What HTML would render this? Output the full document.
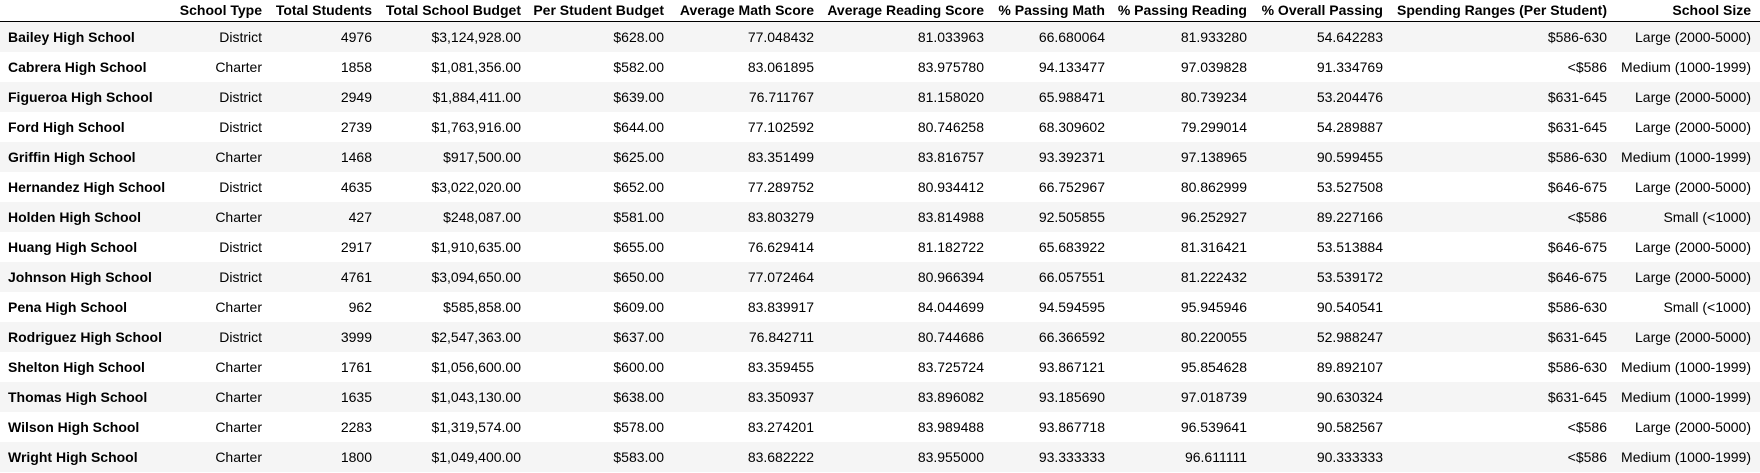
<!DOCTYPE html>
<html><head><meta charset="utf-8"><style>
body{margin:0;width:1760px;height:473px;background:#fff;overflow:hidden;font-family:"Liberation Sans",Arial,sans-serif;font-size:14px;color:#000;position:relative}
.c{position:absolute;white-space:nowrap;line-height:16px}
.h{font-weight:bold}
.row{position:absolute;left:0;width:1760px;height:30px}
.line{position:absolute;left:0;top:21px;width:1760px;height:1px;background:#000}
</style></head><body>
<div class="line"></div>
<script>
var headers=["School Type","Total Students","Total School Budget","Per Student Budget","Average Math Score","Average Reading Score","% Passing Math","% Passing Reading","% Overall Passing","Spending Ranges (Per Student)","School Size"];
var rights=[262,372,521,664,814,984,1105,1247,1383,1607,1751];
var schools=["Bailey High School","Cabrera High School","Figueroa High School","Ford High School","Griffin High School","Hernandez High School","Holden High School","Huang High School","Johnson High School","Pena High School","Rodriguez High School","Shelton High School","Thomas High School","Wilson High School","Wright High School"];
var rows=[
["District","4976","$3,124,928.00","$628.00","77.048432","81.033963","66.680064","81.933280","54.642283","$586-630","Large (2000-5000)"],
["Charter","1858","$1,081,356.00","$582.00","83.061895","83.975780","94.133477","97.039828","91.334769","<$586","Medium (1000-1999)"],
["District","2949","$1,884,411.00","$639.00","76.711767","81.158020","65.988471","80.739234","53.204476","$631-645","Large (2000-5000)"],
["District","2739","$1,763,916.00","$644.00","77.102592","80.746258","68.309602","79.299014","54.289887","$631-645","Large (2000-5000)"],
["Charter","1468","$917,500.00","$625.00","83.351499","83.816757","93.392371","97.138965","90.599455","$586-630","Medium (1000-1999)"],
["District","4635","$3,022,020.00","$652.00","77.289752","80.934412","66.752967","80.862999","53.527508","$646-675","Large (2000-5000)"],
["Charter","427","$248,087.00","$581.00","83.803279","83.814988","92.505855","96.252927","89.227166","<$586","Small (<1000)"],
["District","2917","$1,910,635.00","$655.00","76.629414","81.182722","65.683922","81.316421","53.513884","$646-675","Large (2000-5000)"],
["District","4761","$3,094,650.00","$650.00","77.072464","80.966394","66.057551","81.222432","53.539172","$646-675","Large (2000-5000)"],
["Charter","962","$585,858.00","$609.00","83.839917","84.044699","94.594595","95.945946","90.540541","$586-630","Small (<1000)"],
["District","3999","$2,547,363.00","$637.00","76.842711","80.744686","66.366592","80.220055","52.988247","$631-645","Large (2000-5000)"],
["Charter","1761","$1,056,600.00","$600.00","83.359455","83.725724","93.867121","95.854628","89.892107","$586-630","Medium (1000-1999)"],
["Charter","1635","$1,043,130.00","$638.00","83.350937","83.896082","93.185690","97.018739","90.630324","$631-645","Medium (1000-1999)"],
["Charter","2283","$1,319,574.00","$578.00","83.274201","83.989488","93.867718","96.539641","90.582567","<$586","Large (2000-5000)"],
["Charter","1800","$1,049,400.00","$583.00","83.682222","83.955000","93.333333","96.611111","90.333333","<$586","Medium (1000-1999)"]];
var b=document.body;
headers.forEach(function(t,i){
  var d=document.createElement('div');d.className='c h';d.textContent=t;
  d.style.right=(1760-rights[i])+'px';d.style.top='2px';
  
  
  b.appendChild(d);
});
rows.forEach(function(r,k){
  var top=22+k*30;
  var row=document.createElement('div');row.className='row';row.style.top=top+'px';
  row.style.background=(k%2==0)?'#f5f5f5':'#fff';
  
  
  b.appendChild(row);
  var n=document.createElement('div');n.className='c h';n.textContent=schools[k];
  n.style.left='8px';n.style.top='7px';
  
  
  row.appendChild(n);
  r.forEach(function(v,i){
    var d=document.createElement('div');d.className='c';d.textContent=v;
    d.style.right=(1760-rights[i])+'px';d.style.top='7px';
    
    
    row.appendChild(d);
  });
});
</script>
</body></html>
